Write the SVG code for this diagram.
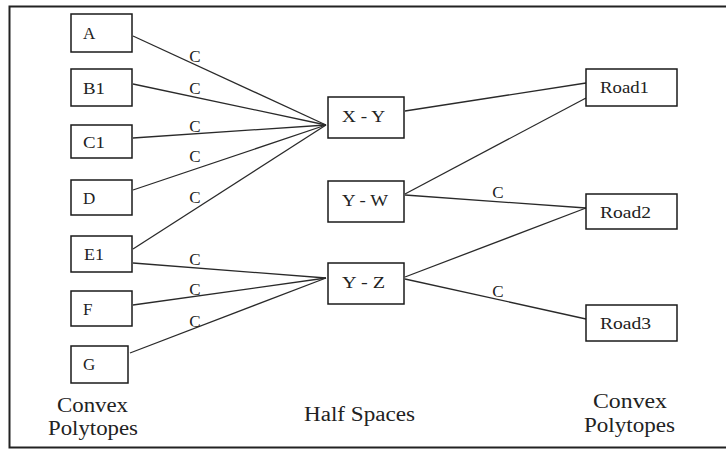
<svg xmlns="http://www.w3.org/2000/svg" width="726" height="450" viewBox="0 0 726 450">
  <style>
    .box { fill: #fff; stroke: #1a1a1a; stroke-width: 1.5; }
    .lbl { font-family: "Liberation Serif", "Times New Roman", serif; font-size: 17px; fill: #222; }
    .cap { font-family: "Liberation Serif", "Times New Roman", serif; font-size: 20px; fill: #222; }
    .edge { stroke: #2a2a2a; stroke-width: 1.3; fill: none; }
    .c { font-family: "Liberation Serif", "Times New Roman", serif; font-size: 17px; fill: #222; text-anchor: middle; }
  </style>
  <rect width="726" height="450" fill="#fff"/>
  <!-- frame -->
  <path d="M726 6.5 H9.5 V447.5 H726" fill="none" stroke="#222" stroke-width="2"/>

  <!-- connectors -->
  <g id="connectors">
    <path class="edge" d="M133 36 L326 125"/>
    <path class="edge" d="M133 84 L326 125"/>
    <path class="edge" d="M133 138 L326 125"/>
    <path class="edge" d="M133 190 L326 125"/>
    <path class="edge" d="M133 249 L326 125"/>
    <path class="edge" d="M133 263 L326 278"/>
    <path class="edge" d="M133 305 L326 278"/>
    <path class="edge" d="M130 353 L326 278"/>
    <path class="edge" d="M405 111 L586 83"/>
    <path class="edge" d="M405 194 L586 98"/>
    <path class="edge" d="M405 195 L586 208"/>
    <path class="edge" d="M405 277 L586 208"/>
    <path class="edge" d="M405 279 L586 319"/>
    <text class="c" x="195" y="62">C</text>
    <text class="c" x="195" y="94">C</text>
    <text class="c" x="195" y="132">C</text>
    <text class="c" x="195" y="162">C</text>
    <text class="c" x="195" y="203">C</text>
    <text class="c" x="195" y="265">C</text>
    <text class="c" x="195" y="295">C</text>
    <text class="c" x="195" y="327">C</text>
    <text class="c" x="498" y="198">C</text>
    <text class="c" x="498" y="297">C</text>
  </g>

  <!-- left polytopes -->
  <g id="node-A"><rect class="box" x="71" y="14" width="61" height="38"/><text class="lbl" x="83" y="39">A</text></g>
  <g id="node-B1"><rect class="box" x="71" y="69" width="61" height="37"/><text class="lbl" x="83" y="94" textLength="22" lengthAdjust="spacingAndGlyphs">B1</text></g>
  <g id="node-C1"><rect class="box" x="71" y="125" width="61" height="33"/><text class="lbl" x="83" y="148" textLength="22" lengthAdjust="spacingAndGlyphs">C1</text></g>
  <g id="node-D"><rect class="box" x="71" y="180" width="61" height="35"/><text class="lbl" x="83" y="204">D</text></g>
  <g id="node-E1"><rect class="box" x="71" y="236" width="61" height="36"/><text class="lbl" x="84" y="260" textLength="20" lengthAdjust="spacingAndGlyphs">E1</text></g>
  <g id="node-F"><rect class="box" x="71" y="291" width="61" height="35"/><text class="lbl" x="83" y="315">F</text></g>
  <g id="node-G"><rect class="box" x="71" y="346" width="57" height="37"/><text class="lbl" x="83" y="370">G</text></g>

  <!-- half spaces -->
  <g id="node-XY"><rect class="box" x="328" y="97" width="76" height="41"/><text class="lbl" x="342" y="122" textLength="43" lengthAdjust="spacingAndGlyphs">X - Y</text></g>
  <g id="node-YW"><rect class="box" x="328" y="181" width="76" height="41"/><text class="lbl" x="342" y="206" textLength="46" lengthAdjust="spacingAndGlyphs">Y - W</text></g>
  <g id="node-YZ"><rect class="box" x="328" y="263" width="76" height="41"/><text class="lbl" x="342" y="288" textLength="43" lengthAdjust="spacingAndGlyphs">Y - Z</text></g>

  <!-- right polytopes -->
  <g id="node-Road1"><rect class="box" x="586" y="69" width="91" height="37"/><text class="lbl" x="600" y="93" textLength="49" lengthAdjust="spacingAndGlyphs">Road1</text></g>
  <g id="node-Road2"><rect class="box" x="586" y="194" width="91" height="35"/><text class="lbl" x="600" y="218" textLength="51" lengthAdjust="spacingAndGlyphs">Road2</text></g>
  <g id="node-Road3"><rect class="box" x="586" y="305" width="91" height="36"/><text class="lbl" x="600" y="329" textLength="51" lengthAdjust="spacingAndGlyphs">Road3</text></g>

  <!-- column captions -->
  <text class="cap" x="57" y="412" textLength="71" lengthAdjust="spacingAndGlyphs">Convex</text>
  <text class="cap" x="48" y="435" textLength="90" lengthAdjust="spacingAndGlyphs">Polytopes</text>
  <text class="cap" x="304" y="421" textLength="111" lengthAdjust="spacingAndGlyphs">Half Spaces</text>
  <text class="cap" x="593" y="408" textLength="74" lengthAdjust="spacingAndGlyphs">Convex</text>
  <text class="cap" x="584" y="432" textLength="91" lengthAdjust="spacingAndGlyphs">Polytopes</text>
</svg>
